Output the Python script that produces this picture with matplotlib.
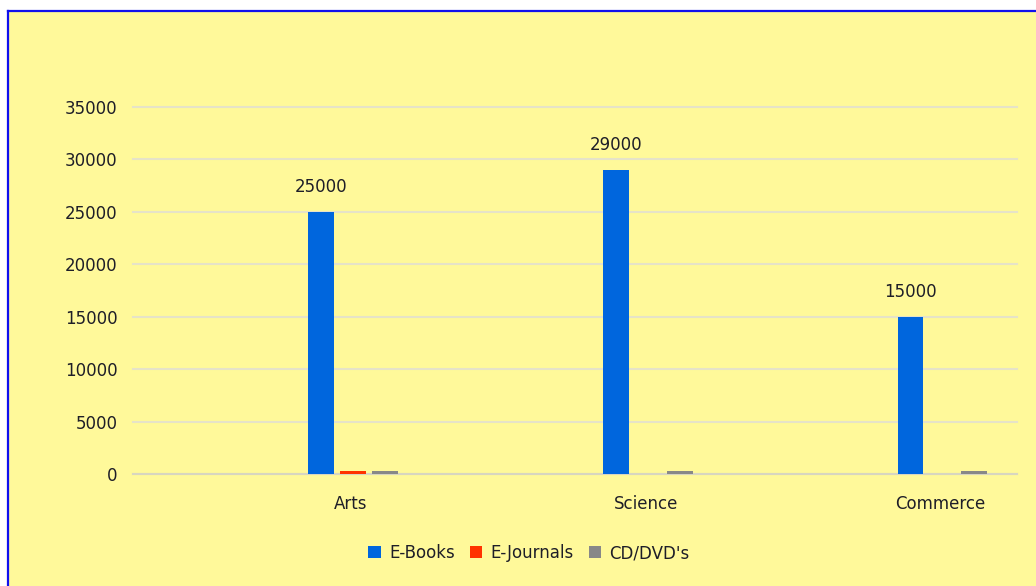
import numpy as np
import matplotlib.pyplot as plt
from matplotlib.patches import Rectangle
from matplotlib.lines import Line2D

categories = ["Arts", "Science", "Commerce"]
series = ["E-Books", "E-Journals", "CD/DVD's"]
ebooks = [25000, 29000, 15000]
ejournals = [250, 0, 0]
cds = [250, 250, 250]
colors = ["#0066DD", "#FF3300", "#888888"]
yticks = [0, 5000, 10000, 15000, 20000, 25000, 30000, 35000]

W, H = 1036, 586
fig = plt.figure(figsize=(W / 100, H / 100), dpi=100)
fig.patch.set_facecolor("white")

# yellow panel with blue border on top / left
yellow = "#FFF99A"
fig.patches.append(Rectangle((8 / W, 0), 1, 1 - 11 / H, transform=fig.transFigure,
                             facecolor=yellow, edgecolor="none", zorder=-10))
fig.lines.append(Line2D([8 / W, 8 / W], [0, 1 - 11 / H], transform=fig.transFigure,
                        color="#1010EE", lw=1.6, zorder=-9))
fig.lines.append(Line2D([8 / W, 1], [1 - 11 / H, 1 - 11 / H], transform=fig.transFigure,
                        color="#1010EE", lw=1.6, zorder=-9))

ax = fig.add_axes([133 / W, 1 - 474 / H, (1017 - 133) / W, (474 - 107) / H])
ax.set_facecolor("none")

txt = "#1E1E28"
x = np.arange(len(categories))
width = 0.088
step = 0.1085
vals = [ebooks, ejournals, cds]
for i, (name, v) in enumerate(zip(series, vals)):
    bars = ax.bar(x + (i - 1) * step + 0.007, v, width, color=colors[i], label=name, zorder=3)
    if i == 0:
        for b, val in zip(bars, v):
            ax.text(b.get_x() + b.get_width() / 2, val + 1500, str(val),
                    ha="center", va="bottom", fontsize=12, color=txt)

ax.set_xlim(-0.74, 2.26)
ax.set_ylim(0, 35000)
ax.set_yticks(yticks)
ax.set_yticklabels([str(t) for t in yticks])
ax.set_xticks(x)
ax.set_xticklabels(categories)
ax.tick_params(length=0, labelsize=12, colors=txt)
ax.tick_params(axis="y", pad=11)
ax.tick_params(axis="x", pad=15)
ax.grid(axis="y", color="#E6E3C8", lw=1.5, zorder=0)
for gl in ax.get_ygridlines():
    gl.set_clip_on(False)
for s in ["top", "right", "left"]:
    ax.spines[s].set_visible(False)
ax.spines["bottom"].set_color("#D8D6C0")
ax.spines["bottom"].set_linewidth(1.5)

ax.legend(loc="center", bbox_to_anchor=(529 / W, 1 - 553 / H), bbox_transform=fig.transFigure,
          ncol=3, frameon=False, fontsize=12, handlelength=0.75, handleheight=0.75,
          handletextpad=0.5, columnspacing=0.9, labelcolor=txt)

fig.savefig("out.png", dpi=100)
